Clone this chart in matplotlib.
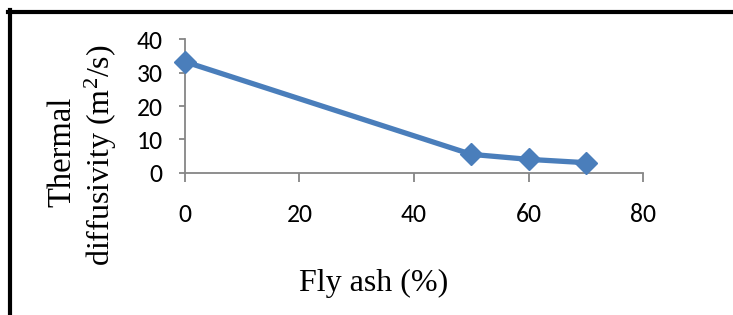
import matplotlib
matplotlib.use('Agg')
import matplotlib.pyplot as plt
from matplotlib.lines import Line2D
from matplotlib import font_manager

fly_ash = [0, 50, 60, 70]
diffusivity = [33.3, 5.5, 4.0, 3.0]
x_ticks = [0, 20, 40, 60, 80]
y_ticks = [0, 10, 20, 30, 40]

BLUE = '#4a7ebb'
GREY = '#868686'

LABEL_FONT = 'Liberation Serif'
names = {f.name for f in font_manager.fontManager.ttflist}
TICK_FONT = 'Carlito' if 'Carlito' in names else 'Liberation Sans'

W, H = 733, 315
fig = plt.figure(figsize=(W / 100, H / 100), dpi=100)
ax = fig.add_axes([184.7 / W, 1 - 172.7 / H, (643.3 - 184.7) / W, (172.7 - 39.3) / H])

ax.plot(fly_ash, diffusivity, color=BLUE, linewidth=3.8, marker='D',
        markersize=11, markerfacecolor=BLUE, markeredgecolor=BLUE,
        clip_on=False, zorder=5)

ax.set_xlim(0, 80)
ax.set_ylim(0, 40)
ax.set_xticks(x_ticks)
ax.set_yticks(y_ticks)
for sp in ('top', 'right'):
    ax.spines[sp].set_visible(False)
for sp in ('left', 'bottom'):
    ax.spines[sp].set_color(GREY)
    ax.spines[sp].set_linewidth(1.3)
ax.tick_params(axis='y', direction='out', length=4, width=1.3, color=GREY,
               pad=12, labelsize=18.5)
ax.tick_params(axis='x', direction='out', length=6.5, width=1.3, color=GREY,
               pad=15, labelsize=18.5)
for lbl in ax.get_xticklabels() + ax.get_yticklabels():
    lbl.set_fontfamily(TICK_FONT)

fig.text(374 / W, 1 - 283 / H, 'Fly ash (%)', fontsize=23, family=LABEL_FONT,
         ha='center', va='center')
fig.text(62 / W, 1 - 152 / H, 'Thermal', fontsize=23.5, family=LABEL_FONT,
         rotation=90, ha='center', va='center')
fig.text(101 / W, 1 - 155 / H, r'diffusivity (m$\mathregular{^2}$/s)',
         fontsize=23, family=LABEL_FONT, rotation=90, ha='center', va='center')

# outer frame (only top and left visible)
fig.add_artist(Line2D([10 / W, 10 / W], [0, 1 - 10 / H], color='black',
                      linewidth=3, transform=fig.transFigure))
fig.add_artist(Line2D([8 / W, 1], [1 - 11.5 / H, 1 - 11.5 / H], color='black',
                      linewidth=3, transform=fig.transFigure))

fig.savefig('out.png', dpi=100)
